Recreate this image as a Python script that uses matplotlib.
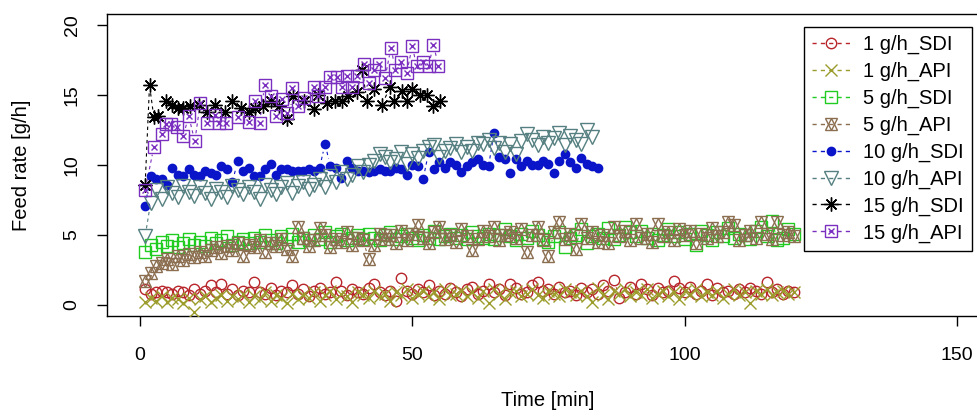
import numpy as np
import matplotlib
matplotlib.use("Agg")
import matplotlib.pyplot as plt
from matplotlib.lines import Line2D
from matplotlib.collections import LineCollection
from matplotlib.legend_handler import HandlerTuple

plt.rcParams['font.family'] = ['Liberation Sans', 'DejaVu Sans']

# ---------------- data ----------------
sdi_1 = [1.1, 0.8, 0.9, 1.0, 0.9, 0.8, 1.0, 0.9, 0.7, 1.1,
         0.8, 1.0, 1.4, 0.9, 1.5, 0.8, 1.1, 0.7, 1.0, 0.9,
         1.6, 0.9, 0.8, 1.2, 0.7, 1.0, 0.9, 1.4, 0.8, 1.1,
         0.6, 1.0, 1.2, 0.8, 0.9, 1.6, 1.0, 0.7, 1.1, 0.9,
         0.8, 1.2, 1.5, 0.9, 0.7, 1.0, 0.3, 1.9, 1.0, 0.8,
         1.1, 0.9, 1.4, 0.7, 1.0, 0.8, 1.2, 0.9, 0.6, 1.1,
         1.3, 0.8, 1.0, 1.5, 0.9, 1.1, 0.7, 1.5, 1.2, 0.8,
         0.9, 1.4, 1.6, 1.0, 1.1, 0.8, 1.3, 0.9, 1.0, 0.7,
         1.2, 0.9, 1.1, 0.8, 1.4, 1.0, 1.8, 0.5, 0.9, 1.3,
         0.8, 1.5, 1.1, 0.7, 1.2, 0.9, 1.0, 1.7, 1.2, 0.9,
         1.3, 0.8, 1.0, 1.5, 0.7, 1.2, 0.9, 1.0, 0.8, 1.1,
         0.9, 1.2, 1.0, 0.8, 1.6, 0.9, 1.1, 0.8, 1.0, 0.9]
api_1 = [0.2, 0.5, 0.3, 0.6, 0.2, 0.5, 0.4, 0.1, 0.5, -0.5,
         0.4, 0.6, 0.2, 0.5, 0.7, 0.3, 0.6, 0.4, 0.8, 0.2,
         0.6, 0.4, 0.9, 0.3, 0.7, 0.5, 0.1, 0.8, 0.4, 0.7,
         0.5, 0.9, 0.3, 0.7, 1.0, 0.4, 0.8, 0.6, 0.2, 0.9,
         0.7, 0.5, 1.0, 0.6, 0.8, 0.3, 0.9, 0.7, 1.1, 0.5,
         0.8, 1.0, 0.6, 0.9, 0.4, 1.1, 0.7, 0.8, 1.0, 0.6,
         0.9, 0.5, 1.0, 0.1, 1.1, 0.8, 0.4, 0.9, 1.0, 0.6,
         0.8, 1.1, 0.7, 0.5, 1.0, 0.8, 0.6, 1.1, 0.9, 0.7,
         1.0, 0.6, 0.2, 1.2, 0.7, 0.4, 1.0, 0.8, 1.1, 0.6,
         0.9, 0.7, 1.1, 0.5, 0.8, 1.0, 0.6, 0.9, 0.4, 1.0,
         0.8, 1.1, 0.6, 0.9, 0.7, 1.0, 0.5, 0.8, 1.1, 0.7,
         0.9, 0.1, 1.0, 0.8, 1.1, 0.7, 0.9, 1.0, 0.8, 0.9]
sdi_5 = [3.8, 4.3, 4.0, 4.5, 4.2, 4.6, 4.1, 4.4, 4.7, 4.3,
         4.5, 4.2, 4.8, 4.4, 4.6, 4.9, 4.3, 4.5, 4.7, 4.4,
         4.8, 4.5, 5.0, 4.6, 4.4, 4.9, 4.7, 5.1, 4.5, 4.8,
         4.6, 5.0, 4.7, 5.2, 4.5, 4.9, 5.1, 4.6, 4.8, 5.0,
         4.7, 5.1, 4.8, 4.6, 5.0, 5.2, 4.7, 4.9, 5.1, 4.8,
         4.6, 5.0, 4.8, 5.3, 4.7, 4.9, 5.1, 4.8, 5.0, 4.7,
         5.2, 4.9, 4.8, 5.1, 4.7, 5.0, 5.4, 4.9, 4.6, 5.1,
         4.8, 5.3, 5.0, 4.7, 4.5, 4.9, 5.2, 4.1, 4.8, 5.0,
         5.4, 4.4, 4.9, 5.1, 4.8, 5.5, 4.7, 5.0, 5.6, 5.2,
         4.9, 5.3, 4.8, 5.1, 4.6, 5.0, 5.4, 4.9, 5.2, 4.7,
         5.1, 4.3, 5.3, 5.0, 4.6, 5.2, 4.9, 5.5, 4.8, 5.1,
         5.0, 4.7, 5.3, 5.6, 4.9, 6.0, 4.6, 4.8, 5.4, 5.1]
api_5 = [1.7, 2.3, 2.8, 3.0, 3.3, 2.9, 3.5, 3.2, 3.6, 3.4,
         3.8, 3.5, 3.9, 4.1, 3.7, 4.2, 3.9, 4.4, 3.5, 4.3,
         4.1, 4.6, 3.8, 4.4, 4.2, 4.7, 4.0, 3.5, 5.6, 4.8,
         4.2, 4.6, 5.5, 5.0, 4.1, 4.7, 4.5, 5.2, 4.3, 4.8,
         4.6, 3.3, 4.3, 5.1, 4.7, 5.0, 4.4, 5.3, 4.6, 5.1,
         5.7, 4.8, 4.4, 5.2, 5.6, 4.7, 5.0, 4.5, 5.4, 4.9,
         3.9, 4.7, 5.3, 4.9, 5.6, 4.6, 5.0, 5.2, 4.8, 5.4,
         3.8, 5.0, 5.6, 4.6, 3.5, 5.2, 5.9, 4.7, 5.1, 4.0,
         5.8, 4.8, 5.2, 4.5, 5.0, 4.4, 5.6, 4.9, 5.3, 4.6,
         5.8, 4.8, 5.1, 4.5, 5.8, 4.9, 5.2, 4.6, 5.4, 5.0,
         5.3, 4.4, 5.1, 4.8, 5.5, 4.9, 5.2, 5.9, 5.7, 4.6,
         5.0, 5.3, 4.8, 5.9, 5.1, 4.7, 5.9, 5.0, 5.2, 4.9]
sdi_10 = [7.1, 9.2, 9.0, 9.0, 8.6, 9.8, 9.3, 9.2, 9.7, 9.3,
          9.2, 9.6, 9.4, 9.3, 9.9, 9.7, 8.8, 10.3, 9.6, 9.8,
          9.2, 9.2, 9.7, 10.1, 9.3, 9.7, 9.7, 9.6, 9.6, 9.6,
          9.7, 9.6, 9.8, 11.5, 9.9, 9.8, 9.1, 10.3, 9.8, 9.6,
          9.6, 9.5, 9.6, 9.7, 9.6, 9.6, 9.8, 9.7, 9.3, 10.0,
          9.9, 9.0, 10.9, 9.7, 10.2, 9.8, 10.2, 10.0, 9.5, 9.9,
          10.2, 10.4, 10.0, 9.9, 12.3, 10.6, 10.4, 9.4, 10.4, 9.9,
          10.3, 10.0, 10.0, 10.3, 10.1, 9.4, 10.3, 10.8, 10.2, 9.8,
          10.5, 10.1, 9.9, 9.8]
api_10 = [4.9, 7.3, 8.2, 7.6, 8.4, 8.0, 7.7, 8.5, 8.1, 7.8,
          8.4, 8.0, 7.6, 8.3, 8.1, 7.7, 8.5, 8.2, 7.9, 8.4,
          8.1, 7.6, 8.6, 8.2, 7.9, 8.4, 8.7, 8.0, 8.5, 8.8,
          8.3, 8.6, 9.0, 8.4, 9.2, 8.8, 9.5, 9.0, 9.3, 9.9,
          9.5, 10.0, 10.3, 10.8, 10.6, 10.2, 10.4, 10.9, 10.1, 10.8,
          10.5, 11.0, 11.3, 11.4, 10.6, 11.0, 11.2, 11.5, 10.9, 11.3,
          11.0, 11.6, 11.5, 11.8, 11.2, 11.6, 10.9, 11.5, 10.8, 11.7,
          12.2, 11.8, 11.4, 12.0, 11.6, 11.9, 12.3, 11.4, 12.1, 11.8,
          11.5, 12.5, 12.0]
time_sdi_15 = [1.0, 1.8, 2.6, 3.3, 4.9, 5.9, 7.0, 8.0, 9.3, 10.8, 12.4, 13.9,
               15.7, 17.0, 18.5, 20.0, 21.2, 22.7, 24.1, 25.5, 27.0, 28.2,
               30.1, 31.9, 32.8, 34.3, 35.9, 37.1, 38.3, 39.8, 40.8, 41.7,
               42.9, 44.4, 46.0, 46.6, 48.1, 49.0, 50.0, 51.5, 52.7, 53.9, 55.1]
sdi_15 = [8.6, 15.7, 13.4, 13.5, 14.6, 14.3, 14.1, 14.1, 14.2, 14.3, 13.8, 14.3,
          13.8, 14.6, 14.1, 13.8, 14.1, 14.2, 14.6, 14.2, 13.3, 14.9,
          14.6, 14.0, 15.0, 14.4, 14.6, 14.6, 14.9, 15.2, 16.8, 14.6,
          15.4, 14.3, 15.6, 14.6, 15.3, 14.6, 15.4, 15.0, 15.0, 14.2, 14.6]
time_api_15 = [1.0, 2.6, 4.0, 4.8, 5.8, 6.9, 8.0, 9.0, 10.1, 11.1, 12.4, 13.9,
               14.6, 15.9, 18.1, 20.0, 21.2, 22.0, 22.9, 24.0, 25.0, 26.1,
               27.0, 27.9, 29.1, 30.1, 31.9, 32.8, 34.0, 35.0, 36.2, 37.1,
               38.0, 38.9, 39.8, 41.1, 42.1, 42.9, 43.9, 45.0, 46.1, 46.9,
               48.0, 49.0, 50.0, 50.8, 52.0, 53.0, 53.9, 54.8]
api_15 = [8.2, 11.3, 12.2, 12.9, 12.9, 12.7, 12.1, 13.5, 11.7, 14.4, 13.0, 13.6,
          13.0, 13.0, 13.4, 13.1, 14.6, 13.0, 15.7, 14.9, 13.5, 14.7,
          13.7, 15.5, 14.2, 14.8, 15.6, 14.9, 15.6, 16.3, 16.3, 15.6,
          16.4, 15.6, 16.4, 17.2, 15.9, 16.8, 17.2, 16.2, 18.4, 16.8,
          17.4, 16.6, 18.5, 17.1, 17.4, 17.1, 18.6, 17.1]

labels = ["1 g/h_SDI", "1 g/h_API", "5 g/h_SDI", "5 g/h_API",
          "10 g/h_SDI", "10 g/h_API", "15 g/h_SDI", "15 g/h_API"]
x_ticks = [0, 50, 100, 150]
y_ticks = [0, 5, 10, 15, 20]

series = [
    (list(range(1, len(sdi_1) + 1)), sdi_1),
    (list(range(1, len(api_1) + 1)), api_1),
    (list(range(1, len(sdi_5) + 1)), sdi_5),
    (list(range(1, len(api_5) + 1)), api_5),
    (list(range(1, len(sdi_10) + 1)), sdi_10),
    (list(range(1, len(api_10) + 1)), api_10),
    (time_sdi_15, sdi_15),
    (time_api_15, api_15),
]

# ---------------- styles ----------------
colors = ['#B8262C', '#9C9C2C', '#1FCC1F', '#8B6E50',
          '#0A14C8', '#557F80', '#000000', '#7B2FC0']
# each style: list of marker layers (marker, size, filled)
marker_layers = [
    [('o', 7.5, False)],
    [('x', 8.0, False)],
    [('s', 8.0, False)],
    [('^', 8.5, False), ('v', 8.5, False)],
    [('o', 6.0, True)],
    [('v', 9.5, False)],
    [((8, 2, 0), 10.0, False)],
    [('s', 8.5, False), ('x', 5.0, False)],
]
DASH = (0, (3, 3))

W, H = 977, 415
fig = plt.figure(figsize=(W / 100, H / 100), dpi=100)
ax = fig.add_axes([107 / W, 1 - 316 / H, (990 - 107) / W, (316 - 14) / H])
ax.set_xlim(-6, 156)
ax.set_ylim(-0.8, 20.8)


def b_segments(xs, ys, gap_px):
    pts = ax.transData.transform(np.column_stack([xs, ys]))
    inv = ax.transData.inverted()
    segs = []
    for p0, p1 in zip(pts[:-1], pts[1:]):
        d = p1 - p0
        L = np.hypot(d[0], d[1])
        if L > 2 * gap_px + 2:
            u = d / L
            segs.append(inv.transform(np.array([p0 + u * gap_px, p1 - u * gap_px])))
    return segs


for (xs, ys), c, layers in zip(series, colors, marker_layers):
    segs = b_segments(xs, ys, 8.0)
    ax.add_collection(LineCollection(segs, colors=c, linewidths=0.8,
                                     linestyles=DASH, zorder=2))
    for m, ms, filled in layers:
        ax.plot(xs, ys, linestyle='none', marker=m, markersize=ms,
                markerfacecolor=c if filled else 'none',
                markeredgecolor=c, markeredgewidth=1.0, zorder=3)

ax.set_xticks(x_ticks)
ax.set_yticks(y_ticks)
ax.tick_params(axis='both', direction='out', length=7, width=1,
               labelsize=14, colors='black')
ax.tick_params(axis='x', pad=15)
ax.tick_params(axis='y', pad=12, labelrotation=90)
for lab in ax.get_yticklabels():
    lab.set_va('center')
for sp in ax.spines.values():
    sp.set_linewidth(1.0)
    sp.set_color('black')

fig.text(22 / W, 1 - 165 / H, "Feed rate [g/h]", rotation=90,
         ha='center', va='center', fontsize=14.5)
fig.text(548 / W, 1 - 400 / H, "Time [min]", ha='center', va='center',
         fontsize=14.5)

# legend
handles = []
for c, layers in zip(colors, marker_layers):
    parts = []
    for i, (m, ms, filled) in enumerate(layers):
        parts.append(Line2D([], [], color=c, linestyle=DASH if i == 0 else 'none',
                            linewidth=1.0, marker=m, markersize=ms,
                            markerfacecolor=c if filled else 'none',
                            markeredgecolor=c, markeredgewidth=1.0))
    handles.append(tuple(parts) if len(parts) > 1 else parts[0])

leg = fig.legend(handles, labels, loc='upper left',
                 bbox_to_anchor=(804 / W, 1 - 27 / H), bbox_transform=fig.transFigure,
                 fontsize=14.5, frameon=True, fancybox=False, framealpha=1,
                 edgecolor='black', borderpad=0.4, labelspacing=0.38,
                 handlelength=1.9, handletextpad=0.65, borderaxespad=0,
                 handler_map={tuple: HandlerTuple(ndivide=1, pad=0)})
leg.get_frame().set_linewidth(1.0)

fig.savefig('out.png', dpi=100)
